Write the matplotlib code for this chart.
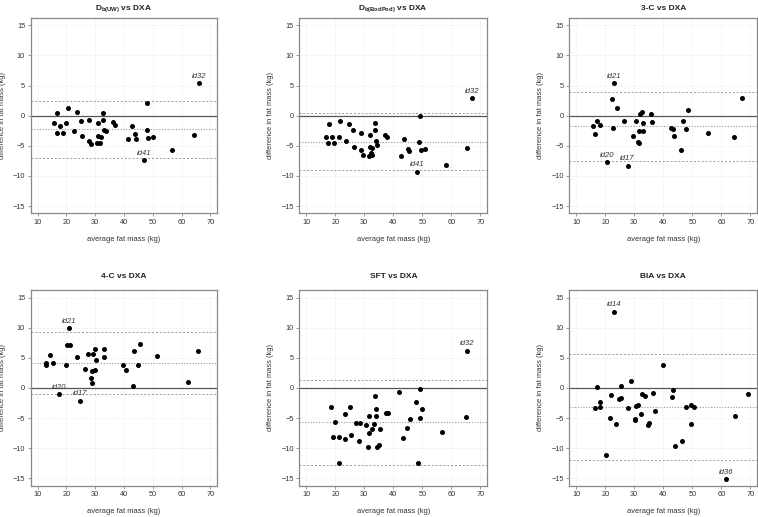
import numpy as np
import matplotlib.pyplot as plt

plt.rcParams['font.family'] = ['Liberation Sans', 'DejaVu Sans']
plt.rcParams['mathtext.fontset'] = 'custom'
plt.rcParams['mathtext.rm'] = 'Liberation Sans'
plt.rcParams['mathtext.bf'] = 'Liberation Sans:bold'
plt.rcParams['mathtext.it'] = 'Liberation Sans:italic'

# --- dati (media, differenza) ---
uw_avg = [15.7, 16.6, 16.7, 17.7, 18.9, 19.9, 20.4, 22.8, 23.6, 25.0, 25.4, 27.9, 27.9, 28.7,
          30.5, 30.9, 31.0, 31.6, 31.9, 32.8, 32.8, 33.0, 33.6, 36.1, 36.9, 41.3, 42.7, 43.9,
          44.3, 47.9, 47.9, 48.5, 50.0, 47.1, 56.8, 64.2, 66.0]
uw_diff = [-1.28, -2.94, 0.5, -1.78, -2.83, -1.28, 1.28, -2.56, 0.56, -0.83, -3.33, -0.72, -4.28, -4.78,
           -4.56, -1.17, -3.33, -4.56, -3.56, 0.39, -0.78, -2.44, -2.61, -1.0, -1.56, -3.94, -1.67, -3.06,
           -3.83, 2.17, -2.33, -3.78, -3.61, -7.44, -5.67, -3.22, 5.39]
uw_ids = {33: 'id41', 36: 'id32'}

bp_avg = [17.7, 16.8, 18.7, 17.4, 19.7, 21.2, 21.5, 23.8, 24.7, 26.0, 26.4, 28.7, 28.9, 29.7,
          31.5, 32.0, 31.9, 32.8, 32.4, 32.7, 33.7, 33.7, 33.9, 34.5, 37.0, 37.9, 43.7, 45.1,
          45.3, 42.7, 49.2, 49.0, 49.5, 50.8, 58.1, 48.1, 65.3, 67.1]
bp_diff = [-1.39, -3.61, -3.61, -4.61, -4.56, -3.56, -0.83, -4.28, -1.39, -2.44, -5.17, -5.72, -2.83, -6.56,
           -6.67, -3.22, -5.17, -5.39, -6.17, -6.5, -1.22, -2.33, -4.28, -4.83, -3.17, -3.61, -3.89, -5.56,
           -5.89, -6.72, -0.11, -4.44, -5.78, -5.5, -8.17, -9.28, -5.39, 2.89]
bp_ids = {35: 'id41', 37: 'id32'}

c3_avg = [23.0, 22.3, 24.0, 15.8, 17.3, 18.1, 16.5, 22.6, 20.7, 26.6, 27.7, 30.5, 31.5, 33.0,
          29.7, 31.3, 31.7, 32.1, 32.6, 33.1, 35.8, 36.0, 42.7, 43.3, 43.8, 46.8, 46.2, 47.7,
          48.5, 55.5, 64.2, 67.1]
c3_diff = [5.39, 2.83, 1.28, -1.67, -0.89, -1.56, -3.11, -2.0, -7.72, -0.89, -8.33, -0.83, -2.56, -2.56,
           -3.39, -4.33, -4.5, 0.22, 0.56, -1.17, 0.28, -1.0, -2.06, -2.17, -3.39, -0.83, -5.72, -2.28,
           0.94, -2.83, -3.5, 2.89]
c3_ids = {0: 'id21', 8: 'id20', 10: 'id17'}

c4_avg = [20.8, 20.3, 21.2, 14.2, 12.9, 13.0, 15.2, 19.7, 23.6, 26.4, 27.5, 29.4, 29.9, 30.2,
          28.8, 28.7, 28.8, 30.1, 32.9, 32.9, 39.8, 40.8, 43.5, 45.4, 44.8, 43.2, 51.4, 62.1,
          65.6, 17.5, 24.7]
c4_diff = [9.94, 7.17, 7.11, 5.5, 4.11, 3.78, 4.22, 3.83, 5.17, 3.22, 5.61, 5.56, 6.44, 4.61,
           2.78, 1.72, 0.78, 3.0, 6.44, 5.11, 3.83, 3.06, 6.06, 7.22, 3.83, 0.28, 5.22, 1.0,
           6.11, -1.0, -2.11]
c4_ids = {0: 'id21', 29: 'id20', 30: 'id17'}

sft_avg = [65.4, 49.1, 42.0, 33.7, 47.7, 49.8, 34.1, 25.2, 18.4, 23.2, 31.6, 34.0, 37.5, 38.2,
           45.9, 49.1, 64.9, 19.8, 27.3, 28.6, 30.5, 33.3, 32.6, 35.5, 31.7, 44.8, 56.7, 19.1,
           21.4, 23.5, 25.5, 28.2, 43.3, 31.2, 34.3, 34.9, 21.3, 48.6]
sft_diff = [6.17, -0.11, -0.61, -1.33, -2.39, -3.56, -3.56, -3.17, -3.17, -4.28, -4.61, -4.61, -4.22, -4.11,
            -5.17, -5.06, -4.89, -5.61, -5.78, -5.78, -6.22, -6.06, -6.78, -6.83, -7.5, -6.72, -7.33, -8.11,
            -8.17, -8.44, -7.78, -8.78, -8.33, -9.83, -9.72, -9.39, -12.45, -12.4]
sft_ids = {0: 'id32'}

bia_avg = [22.9, 39.8, 28.8, 25.5, 17.3, 22.1, 24.7, 25.5, 32.7, 33.7, 36.4, 43.5, 42.9, 69.1,
           16.6, 18.1, 18.3, 27.8, 30.5, 31.4, 32.4, 37.2, 47.9, 49.4, 50.6, 21.7, 23.8, 30.1,
           30.4, 34.6, 34.9, 49.6, 64.8, 46.6, 43.9, 20.4, 61.5]
bia_diff = [12.67, 3.78, 1.22, 0.39, 0.17, -1.17, -1.83, -1.61, -0.94, -1.33, -0.78, -0.33, -1.44, -1.0,
            -3.33, -2.39, -3.22, -3.39, -3.06, -2.83, -4.33, -3.78, -3.11, -2.89, -3.22, -4.94, -5.94, -5.39,
            -5.22, -6.22, -5.89, -6.0, -4.61, -8.78, -9.67, -11.11, -15.11]
bia_ids = {0: 'id14', 36: 'id36'}

titles = [r'$\mathbf{D_{b(UW)}}$ vs DXA', r'$\mathbf{D_{b(BodPod)}}$ vs DXA', '3-C vs DXA',
          '4-C vs DXA', 'SFT vs DXA', 'BIA vs DXA']
bias = [-2.25, -4.3, -1.8, 4.15, -5.7, -3.1]
loa_lo = [-7.0, -9.0, -7.45, -1.0, -12.75, -11.9]
loa_hi = [2.5, 0.4, 3.85, 9.3, 1.3, 5.7]

pannelli = [(uw_avg, uw_diff, uw_ids), (bp_avg, bp_diff, bp_ids), (c3_avg, c3_diff, c3_ids),
            (c4_avg, c4_diff, c4_ids), (sft_avg, sft_diff, sft_ids), (bia_avg, bia_diff, bia_ids)]

# posizioni degli assi in pixel (figura 758x517)
W, H = 758, 517
lefts = [30.7, 299.3, 569.3]
widths = [186.6, 188, 188]
tops = [18, 290.3]
alt = 195.3

fig = plt.figure(figsize=(7.58, 5.17), dpi=100)

for i, (avg, diff, ids) in enumerate(pannelli):
    r, c = divmod(i, 3)
    ax = fig.add_axes([lefts[c] / W, (H - tops[r] - alt) / H, widths[c] / W, alt / H])

    ax.grid(color='#e8e8e8', lw=0.5, ls=(0, (1, 1)))
    ax.set_axisbelow(True)
    ax.axhline(0, color='#555555', lw=0.9)
    ax.axhline(bias[i], color='#999999', lw=0.8, ls=(0, (1, 1.5)))
    ax.axhline(loa_lo[i], color='#999999', lw=0.7, ls=(0, (2, 2)))
    ax.axhline(loa_hi[i], color='#999999', lw=0.7, ls=(0, (2, 2)))

    ax.scatter(avg, diff, s=13, color='black', zorder=3, lw=0)
    for k, lab in ids.items():
        ax.annotate(lab, (avg[k], diff[k]), xytext=(0, 2.5), textcoords='offset points',
                    ha='center', va='bottom', fontsize=5.5, style='italic', color='#333333')

    ax.set_xlim(7.6, 72.4)
    ax.set_ylim(-16.2, 16.2)
    ax.set_xticks([10, 20, 30, 40, 50, 60, 70])
    ax.set_yticks([-15, -10, -5, 0, 5, 10, 15])
    ax.tick_params(labelsize=5.3, colors='#888888', labelcolor='#333333', length=2, width=0.6, pad=2)
    for sp in ax.spines.values():
        sp.set_color('#888888')
        sp.set_linewidth(0.9)

    ax.set_xlabel('average fat mass (kg)', fontsize=5.4, color='#333333', labelpad=7)
    ax.set_ylabel('difference in fat mass (kg)', fontsize=5.4, color='#333333', labelpad=5)
    ax.set_title(titles[i], fontsize=6, fontweight='bold', color='#222222', pad=6 if r == 0 else 8.5)

fig.savefig('out.png', dpi=100)
